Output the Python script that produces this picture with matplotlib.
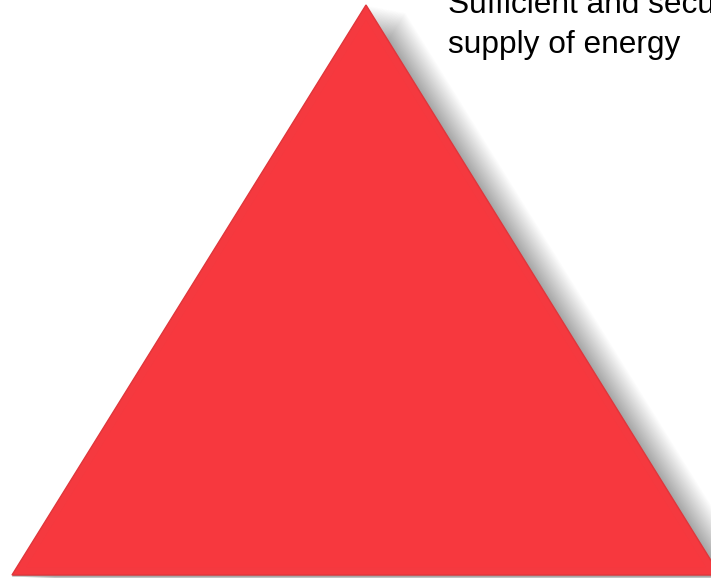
import numpy as np
import matplotlib.pyplot as plt
from matplotlib.patches import Polygon

# Triangle corners (pixel space of the slide, y down)
tri_x = [366, 12, 720]
tri_y = [5, 575, 575]
caption_lines = ["Sufficient and secure", "supply of energy"]

fig = plt.figure(figsize=(7.11, 5.78), dpi=100)
ax = fig.add_axes([0, 0, 1, 1])
ax.set_xlim(0, 711)
ax.set_ylim(578, 0)
ax.axis("off")

verts = np.column_stack([tri_x, tri_y])

# soft, wide shadow to the right
for k in range(1, 31):
    shadow = Polygon(verts + [k * 1.3, k * 0.25], closed=True,
                     facecolor="#000000", edgecolor="none", alpha=0.011, zorder=1)
    ax.add_patch(shadow)
ax.add_patch(Polygon(verts + [0, 1.5], closed=True, facecolor="#9a9a9a",
                     edgecolor="none", zorder=2))

# main triangle with a faint bevel
ax.add_patch(Polygon(verts, closed=True, facecolor="#F5393F",
                     edgecolor="#E0363B", linewidth=1.0, zorder=3))
center = verts.mean(axis=0)
inner = center + (verts - center) * 0.96
ax.add_patch(Polygon(inner, closed=True, facecolor="#F7383E",
                     edgecolor="none", zorder=4))

plt.rcParams["font.family"] = ["Liberation Sans", "DejaVu Sans"]
for i, line in enumerate(caption_lines):
    ax.text(448, 13 + 40 * i, line, fontsize=22.8, color="black",
            ha="left", va="baseline", zorder=5)

fig.savefig("out.png", dpi=100)
